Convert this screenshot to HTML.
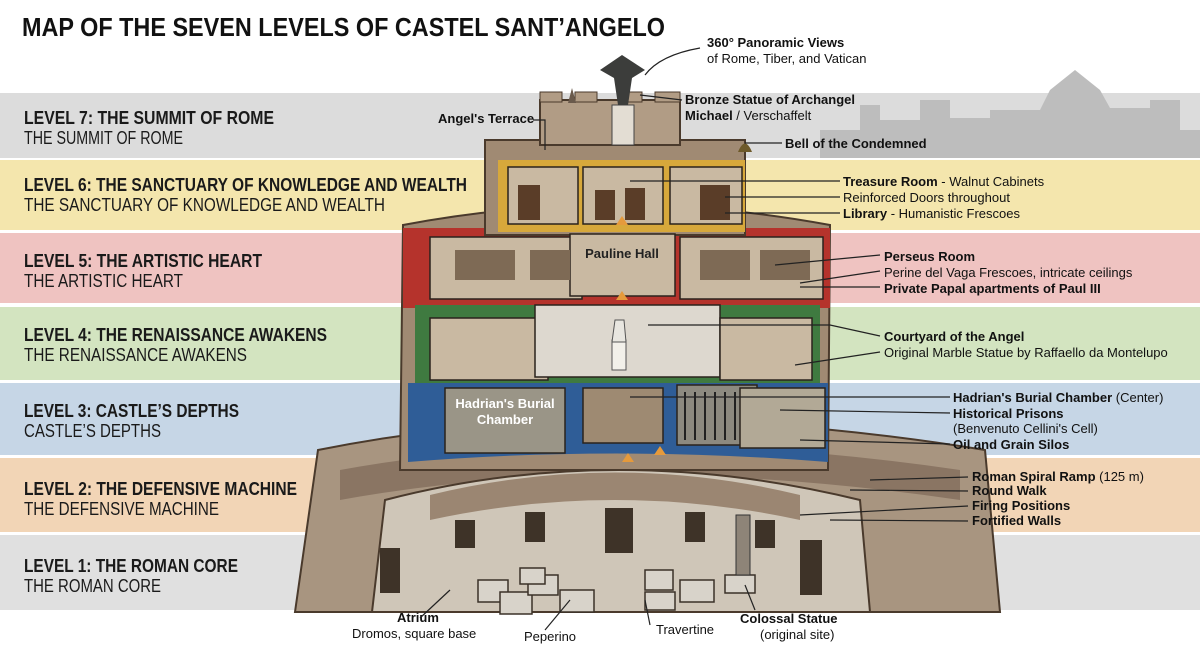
<!DOCTYPE html>
<html><head><meta charset="utf-8"><style>
body{margin:0;width:1200px;height:655px;overflow:hidden;background:#fff;font-family:"Liberation Sans",sans-serif}
svg{position:absolute;left:0;top:0}
</style></head><body>
<svg width="1200" height="655" viewBox="0 0 1200 655" font-family="Liberation Sans, sans-serif">
<rect x="0" y="93" width="1200" height="65" fill="#dcdcdc"/>
<rect x="0" y="160" width="1200" height="70" fill="#f4e6ad"/>
<rect x="0" y="233" width="1200" height="70" fill="#efc3c1"/>
<rect x="0" y="307" width="1200" height="73" fill="#d3e4c0"/>
<rect x="0" y="383" width="1200" height="72" fill="#c6d6e6"/>
<rect x="0" y="458" width="1200" height="74" fill="#f2d5b6"/>
<rect x="0" y="535" width="1200" height="75" fill="#e0e0e0"/>
<path d="M820 130 L860 130 860 105 880 105 880 120 920 120 920 100 950 100 950 118 990 118 990 110 1040 110 1050 90 1075 70 1100 90 1110 108 1150 108 1150 100 1180 100 1180 130 1200 130 1200 158 820 158Z" fill="#bdbdbd"/>
<path d="M295 612 L318 450 Q615 390 985 450 L1000 612Z" fill="#a89580" stroke="#4a3a2c" stroke-width="2"/>
<path d="M340 470 Q615 420 960 470 L960 500 Q615 450 340 500Z" fill="#8a7563"/>
<path d="M372 612 L385 500 Q615 440 860 500 L870 612Z" fill="#cfc6b8" stroke="#4a3a2c" stroke-width="2"/>
<path d="M430 495 Q615 450 800 495 L800 520 Q615 480 430 520Z" fill="#9b8672"/>
<g fill="#3e3328"><rect x="455" y="520" width="20" height="28"/><rect x="525" y="512" width="20" height="30"/><rect x="605" y="508" width="28" height="45"/><rect x="685" y="512" width="20" height="30"/><rect x="755" y="520" width="20" height="28"/><rect x="380" y="548" width="20" height="45"/><rect x="800" y="540" width="22" height="55"/></g>
<g fill="#d8d3ca" stroke="#3a3128" stroke-width="1.5"><rect x="478" y="580" width="30" height="22"/><rect x="500" y="592" width="32" height="22"/><rect x="528" y="575" width="30" height="20"/><rect x="560" y="590" width="34" height="22"/><rect x="520" y="568" width="25" height="16"/><rect x="645" y="570" width="28" height="20"/><rect x="645" y="592" width="30" height="18"/><rect x="680" y="580" width="34" height="22"/><rect x="725" y="575" width="30" height="18"/></g>
<rect x="736" y="515" width="14" height="60" fill="#8e8478" stroke="#333"/>
<path d="M400 470 L403 225 Q615 185 830 225 L828 470Z" fill="#a08a73" stroke="#4a3a2c" stroke-width="2"/>
<rect x="403" y="228" width="427" height="80" fill="#b5332c"/>
<rect x="415" y="305" width="405" height="80" fill="#3f7a40"/>
<path d="M408 383 L828 383 L828 462 Q615 445 408 462Z" fill="#2f5d97"/>
<rect x="485" y="140" width="260" height="95" fill="#a08a73" stroke="#4a3a2c" stroke-width="2"/>
<rect x="498" y="160" width="247" height="72" fill="#d7a83b"/>
<rect x="540" y="100" width="140" height="45" fill="#b19c85" stroke="#4a3a2c" stroke-width="2"/>
<g fill="#b19c85" stroke="#4a3a2c"><rect x="540" y="92" width="22" height="10"/><rect x="575" y="92" width="22" height="10"/><rect x="620" y="92" width="22" height="10"/><rect x="655" y="92" width="25" height="10"/></g>
<rect x="612" y="105" width="22" height="40" fill="#e3ddd3" stroke="#444"/>
<path d="M600 70 L622 55 L645 70 L632 78 L628 105 L618 105 L614 78Z" fill="#3c3d3b"/>
<path d="M568 103 L572 88 L576 103Z" fill="#6a5a4c"/>
<path d="M738 152 Q745 135 752 152Z" fill="#6e5a2a"/>
<g fill="#c9b9a2" stroke="#2a231c" stroke-width="1.5">
<rect x="508" y="167" width="70" height="57"/><rect x="583" y="167" width="80" height="57"/><rect x="670" y="167" width="72" height="57"/>
<rect x="430" y="237" width="152" height="62"/><rect x="570" y="234" width="105" height="62"/><rect x="680" y="237" width="143" height="62"/>
<rect x="430" y="318" width="118" height="62"/><rect x="535" y="305" width="185" height="72" fill="#ddd8cf"/><rect x="720" y="318" width="92" height="62"/>
<rect x="445" y="388" width="120" height="65" fill="#9a9587"/><rect x="583" y="388" width="80" height="55" fill="#9e8a72"/><rect x="677" y="385" width="80" height="60" fill="#8d8a80"/><rect x="740" y="388" width="85" height="60" fill="#b2a996"/>
</g>
<g fill="#5a3d28"><rect x="518" y="185" width="22" height="35"/><rect x="595" y="190" width="20" height="30"/><rect x="625" y="188" width="20" height="32"/><rect x="700" y="185" width="30" height="35"/></g>
<g fill="#7e6a55"><rect x="455" y="250" width="60" height="30"/><rect x="530" y="250" width="40" height="30"/><rect x="700" y="250" width="50" height="30"/><rect x="760" y="250" width="50" height="30"/></g>
<rect x="612" y="340" width="14" height="30" fill="#f2f0ea" stroke="#555"/>
<path d="M615 320 L624 320 L626 342 L612 342Z" fill="#e8e6e0" stroke="#555"/>
<g stroke="#222" stroke-width="2"><line x1="685" y1="392" x2="685" y2="440"/><line x1="695" y1="392" x2="695" y2="440"/><line x1="705" y1="392" x2="705" y2="440"/><line x1="715" y1="392" x2="715" y2="440"/><line x1="725" y1="392" x2="725" y2="440"/><line x1="735" y1="392" x2="735" y2="440"/></g>
<g fill="#e59a3c"><path d="M622 225 l-6 0 6-9 6 9z"/><path d="M622 300 l-6 0 6-9 6 9z"/><path d="M628 462 l-6 0 6-9 6 9z"/><path d="M660 455 l-6 0 6-9 6 9z"/></g>
<text x="622" y="258" font-size="13" font-weight="bold" text-anchor="middle" fill="#222">Pauline Hall</text>
<text x="505" y="408" font-size="13" font-weight="bold" text-anchor="middle" fill="#fff">Hadrian's Burial</text>
<text x="505" y="424" font-size="13" font-weight="bold" text-anchor="middle" fill="#fff">Chamber</text>
<text x="22" y="36" font-size="26" font-weight="bold" fill="#111" textLength="643" lengthAdjust="spacingAndGlyphs">MAP OF THE SEVEN LEVELS OF CASTEL SANT’ANGELO</text>
<g font-size="18" fill="#1a1a1a">
<text x="24" y="124" font-weight="bold" textLength="250" lengthAdjust="spacingAndGlyphs">LEVEL 7: THE SUMMIT OF ROME</text><text x="24" y="144" textLength="159" lengthAdjust="spacingAndGlyphs">THE SUMMIT OF ROME</text>
<text x="24" y="191" font-weight="bold" textLength="443" lengthAdjust="spacingAndGlyphs">LEVEL 6: THE SANCTUARY OF KNOWLEDGE AND WEALTH</text><text x="24" y="211" textLength="361" lengthAdjust="spacingAndGlyphs">THE SANCTUARY OF KNOWLEDGE AND WEALTH</text>
<text x="24" y="267" font-weight="bold" textLength="238" lengthAdjust="spacingAndGlyphs">LEVEL 5: THE ARTISTIC HEART</text><text x="24" y="287" textLength="159" lengthAdjust="spacingAndGlyphs">THE ARTISTIC HEART</text>
<text x="24" y="341" font-weight="bold" textLength="303" lengthAdjust="spacingAndGlyphs">LEVEL 4: THE RENAISSANCE AWAKENS</text><text x="24" y="361" textLength="223" lengthAdjust="spacingAndGlyphs">THE RENAISSANCE AWAKENS</text>
<text x="24" y="417" font-weight="bold" textLength="215" lengthAdjust="spacingAndGlyphs">LEVEL 3: CASTLE’S DEPTHS</text><text x="24" y="437" textLength="137" lengthAdjust="spacingAndGlyphs">CASTLE’S DEPTHS</text>
<text x="24" y="495" font-weight="bold" textLength="273" lengthAdjust="spacingAndGlyphs">LEVEL 2: THE DEFENSIVE MACHINE</text><text x="24" y="515" textLength="195" lengthAdjust="spacingAndGlyphs">THE DEFENSIVE MACHINE</text>
<text x="24" y="572" font-weight="bold" textLength="214" lengthAdjust="spacingAndGlyphs">LEVEL 1: THE ROMAN CORE</text><text x="24" y="592" textLength="137" lengthAdjust="spacingAndGlyphs">THE ROMAN CORE</text>
</g>
<g font-size="13" fill="#111">
<text x="707" y="47" font-weight="bold">360° Panoramic Views</text><text x="707" y="63">of Rome, Tiber, and Vatican</text>
<text x="685" y="104" font-weight="bold">Bronze Statue of Archangel</text><text x="685" y="120"><tspan font-weight="bold">Michael</tspan> / Verschaffelt</text>
<text x="438" y="123" font-weight="bold">Angel's Terrace</text>
<text x="785" y="148" font-weight="bold">Bell of the Condemned</text>
<text x="843" y="186"><tspan font-weight="bold">Treasure Room</tspan> - Walnut Cabinets</text>
<text x="843" y="202">Reinforced Doors throughout</text>
<text x="843" y="218"><tspan font-weight="bold">Library</tspan> - Humanistic Frescoes</text>
<text x="884" y="261" font-weight="bold">Perseus Room</text><text x="884" y="277">Perine del Vaga Frescoes, intricate ceilings</text><text x="884" y="293" font-weight="bold">Private Papal apartments of Paul III</text>
<text x="884" y="341" font-weight="bold">Courtyard of the Angel</text><text x="884" y="357">Original Marble Statue by Raffaello da Montelupo</text>
<text x="953" y="402"><tspan font-weight="bold">Hadrian's Burial Chamber</tspan> (Center)</text>
<text x="953" y="418" font-weight="bold">Historical Prisons</text><text x="953" y="433">(Benvenuto Cellini's Cell)</text><text x="953" y="449" font-weight="bold">Oil and Grain Silos</text>
<text x="972" y="481"><tspan font-weight="bold">Roman Spiral Ramp</tspan> (125 m)</text>
<text x="972" y="495" font-weight="bold">Round Walk</text><text x="972" y="510" font-weight="bold">Firing Positions</text><text x="972" y="525" font-weight="bold">Fortified Walls</text>
<text x="397" y="622" font-weight="bold">Atrium</text><text x="352" y="638">Dromos, square base</text>
<text x="524" y="641">Peperino</text><text x="656" y="634">Travertine</text>
<text x="740" y="623" font-weight="bold">Colossal Statue</text><text x="760" y="639">(original site)</text>
</g>
<g stroke="#222" stroke-width="1.2" fill="none">
<path d="M700 48 Q660 55 645 75"/><path d="M682 100 L640 95"/><path d="M533 120 L545 120 L545 150"/><path d="M782 143 L745 143"/>
<path d="M840 181 L630 181"/><path d="M840 197 L725 197"/><path d="M840 213 L725 213"/>
<path d="M880 255 L775 265"/><path d="M880 271 L800 283"/><path d="M880 287 L800 287"/>
<path d="M880 336 L830 325 L648 325"/><path d="M880 352 L795 365"/>
<path d="M950 397 L830 397 L630 397"/><path d="M950 413 L780 410"/><path d="M950 444 L800 440"/>
<path d="M968 477 L870 480"/><path d="M968 491 L850 490"/><path d="M968 506 L800 515"/><path d="M968 521 L830 520"/>
<path d="M420 618 L450 590"/><path d="M545 630 L570 600"/><path d="M650 625 L645 600"/><path d="M755 610 L745 585"/>
</g>
</svg>
</body></html>
